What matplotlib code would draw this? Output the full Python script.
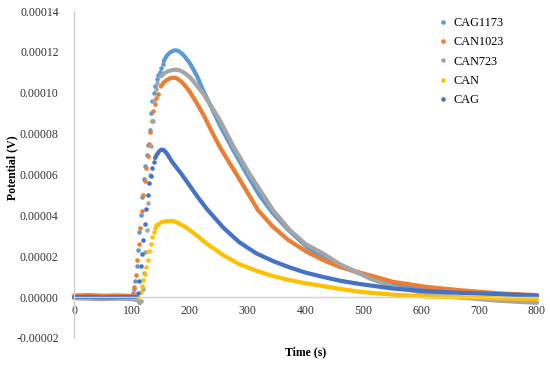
import numpy as np
import matplotlib
matplotlib.use("Agg")
import matplotlib.pyplot as plt
from matplotlib.lines import Line2D
from matplotlib.ticker import FuncFormatter

# values, potential in units of 1e-5 V
cag1173_t = [0, 25, 50, 75, 100,
             103, 105.5, 108, 110.5, 113, 115.5, 118, 120.5, 123, 125.5, 128, 130.5,
             133, 135.5, 138, 140.5, 143, 145.5, 148, 150.5, 153,
             155, 160, 165, 170, 175, 180, 186, 192, 200, 212, 223, 238, 252, 275, 298, 320,
             344, 370, 402, 430, 459, 480, 511, 551, 609, 667, 736, 800]
cag1173_v = [0.02, 0.03, 0.02, 0.01, 0.02,
             0.4, 0.8, 1.5, 2.3, 3.2, 4.0, 4.9, 5.8, 6.4, 6.95, 7.45, 8.2,
             9.0, 9.6, 10.0, 10.35, 10.65, 10.85, 11.0, 11.2, 11.4,
             11.55, 11.8, 11.95, 12.04, 12.08, 12.05, 11.93, 11.75, 11.45, 10.85, 10.12, 9.25, 8.41,
             7.2, 6.05, 5.0, 4.09, 3.3, 2.46, 1.95, 1.56, 1.3, 0.99, 0.62, 0.38, 0.25, 0.15, 0.08]

can1023_t = [0, 25, 50, 75, 100,
             102, 104.5, 107, 109.5, 112, 114.5, 117, 119.5, 122, 124.5, 127, 129.5,
             132, 134.5, 137, 139.5, 142, 144.5,
             150, 155, 160, 166, 172, 178, 185, 192, 200, 212, 225, 238, 252, 270, 287, 318, 344,
             370, 402, 430, 459, 494, 520, 551, 609, 667, 736, 800]
can1023_v = [0.08, 0.1, 0.07, 0.08, 0.06,
             0.2, 0.5, 1.1, 1.8, 2.6, 3.4, 4.2, 5.0, 5.7, 6.3, 6.9, 7.5,
             8.1, 8.6, 9.1, 9.45, 9.75, 9.95,
             10.3, 10.5, 10.62, 10.71, 10.74, 10.7, 10.55, 10.35, 10.05, 9.5, 8.85, 8.1, 7.35, 6.5,
             5.72, 4.25, 3.44, 2.8, 2.22, 1.82, 1.48, 1.2, 1.0, 0.75, 0.5, 0.34, 0.18, 0.1]

can723_t = [0, 25, 50, 75, 100, 110, 114,
            116, 118.5, 121, 123.5, 126, 128.5, 131, 133.5, 136, 138.5, 141, 143.5,
            150, 156, 162, 170, 177, 184, 191, 200, 211, 223, 237, 252, 275, 304, 344, 373,
            400, 430, 460, 488, 511, 551, 609, 667, 736, 800]
can723_v = [-0.05, -0.08, -0.1, -0.08, -0.1, -0.15, -0.3,
            -0.2, 0.4, 1.2, 2.2, 3.3, 4.6, 6.0, 7.4, 8.6, 9.6, 10.2, 10.5,
            10.8, 10.95, 11.05, 11.11, 11.13, 11.08, 10.97, 10.77, 10.4, 9.96, 9.35, 8.66, 7.4,
            6.0, 4.25, 3.28, 2.6, 2.14, 1.6, 1.24, 0.91, 0.5, 0.18, -0.02, -0.18, -0.28]

can_t = [0, 25, 50, 75, 100, 112,
         115, 117.5, 120, 122.5, 125, 127.5, 130, 132.5, 135, 137.5, 140, 142.5, 145,
         150, 157, 163, 168, 174, 180, 190, 200, 215, 230, 258, 285, 315, 345, 373, 400,
         430, 460, 494, 551, 609, 667, 736, 800]
can_v = [0.0, -0.02, 0.0, -0.01, -0.02, -0.03,
         0.26, 0.55, 0.85, 1.15, 1.45, 1.8, 2.25, 2.6, 2.95, 3.2, 3.4, 3.52, 3.6,
         3.66, 3.7, 3.72, 3.73, 3.7, 3.62, 3.47, 3.28, 2.95, 2.6, 2.05, 1.62, 1.29, 1.02, 0.83,
         0.68, 0.54, 0.4, 0.26, 0.12, 0.03, -0.01, -0.06, -0.1]

cag_t = [0, 25, 50, 75, 100, 108,
         110, 112.5, 115, 117.5, 120, 122.5, 125, 127.5, 130, 132.5, 135, 137.5,
         140, 145, 148, 151, 155, 160, 170, 185, 200, 215, 230, 258, 285, 315, 345, 373, 400,
         430, 460, 494, 551, 609, 667, 736, 800]
cag_v = [0.0, 0.01, -0.01, 0.0, 0.01, 0.02,
         0.2, 0.8, 1.5, 2.1, 2.8, 3.6, 4.3, 5.0, 5.6, 5.95, 6.3, 6.6,
         6.8, 7.05, 7.16, 7.22, 7.2, 7.05, 6.6, 6.05, 5.45, 4.85, 4.3, 3.4, 2.7, 2.14, 1.75,
         1.45, 1.2, 0.99, 0.8, 0.64, 0.42, 0.29, 0.21, 0.15, 0.07]

labels = ["CAG1173", "CAN1023", "CAN723", "CAN", "CAG"]
colors = ["#5B9BD5", "#ED7D31", "#A5A5A5", "#FFC000", "#4472C4"]
# time windows where the sparse rising dots are visible
rise = [(101, 154), (101, 147), (115, 145), (113, 147), (109, 139)]

plt.rcParams['font.family'] = ['Liberation Serif', 'DejaVu Serif']

fig = plt.figure(figsize=(5.5, 3.66), dpi=100)
ax = fig.add_axes([74 / 550, 28 / 366, 463 / 550, 327 / 366])

series = [(cag1173_t, cag1173_v), (can1023_t, can1023_v), (can723_t, can723_v),
          (can_t, can_v), (cag_t, cag_v)]
for (t, v), col, (a, b) in zip(series, colors, rise):
    t = np.array(t)
    v = np.array(v) * 1e-5
    dots = (t > a) & (t < b)
    ax.plot(t[t <= a], v[t <= a], color=col, lw=3, solid_capstyle='round',
            solid_joinstyle='round', clip_on=False)
    ax.plot(t[dots], v[dots], 'o', color=col, ms=3.3, mec='none', clip_on=False)
    ax.plot(t[t >= b], v[t >= b], color=col, lw=3, solid_capstyle='round',
            solid_joinstyle='round', clip_on=False)

ax.set_xlim(0, 800)
ax.set_ylim(-0.00002, 0.00014)
ax.set_xticks(range(0, 801, 100))
ax.set_yticks(np.arange(-0.00002, 0.000141, 0.00002))
ax.yaxis.set_major_formatter(FuncFormatter(lambda y, p: f"{y:.5f}".replace("-0.00000", "0.00000")))

for s in ['top', 'right']:
    ax.spines[s].set_visible(False)
ax.spines['bottom'].set_position(('data', 0))
for s in ['left', 'bottom']:
    ax.spines[s].set_color('#D0D0D0')
    ax.spines[s].set_linewidth(1.0)
ax.tick_params(length=0, labelsize=8.5, colors='#333333')
ax.tick_params(axis='y', pad=11)
ax.tick_params(axis='x', pad=6)

ax.set_xlabel("Time (s)", fontsize=8.5, fontweight='bold')
ax.xaxis.set_label_coords(0.5, -0.045)
ax.xaxis.label.set_va('center')
ax.set_ylabel("Potential (V)", fontsize=8.5, fontweight='bold')
ax.yaxis.set_label_coords(-0.134, 0.52)
ax.yaxis.label.set_va('center')

handles = [Line2D([], [], ls='none', marker='o', ms=3.3, mec='none', color=c) for c in colors]
ax.legend(handles, labels, loc='upper left', bbox_to_anchor=(0.765, 1.015), frameon=False,
          fontsize=8.8, handlelength=0.6, handletextpad=0.6, labelspacing=0.6)

fig.savefig("out.png", dpi=100)
